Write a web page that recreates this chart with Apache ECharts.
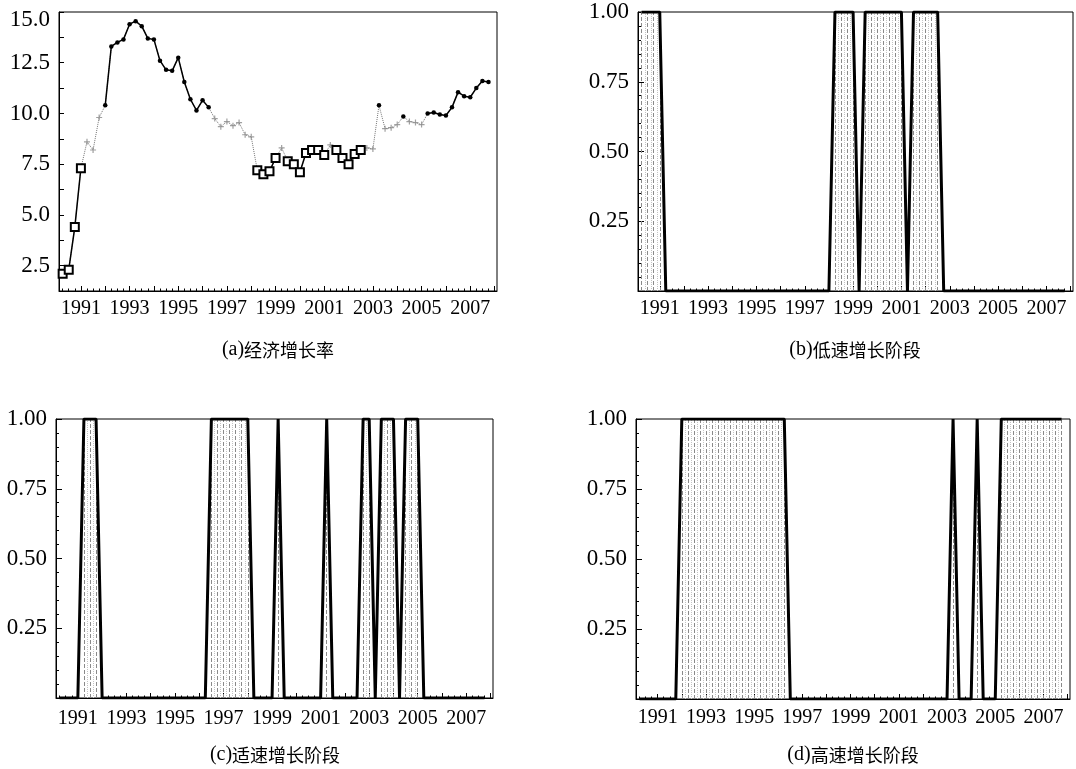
<!DOCTYPE html>
<html><head><meta charset="utf-8">
<script src="https://cdn.jsdelivr.net/npm/echarts@6/dist/echarts.min.js"></script>
<style>html,body{margin:0;padding:0;background:#fff}#c{width:1076px;height:769px}</style>
</head><body><div id="c"></div>
<script>
// ---- data ----
const periods = [
 '1990Q2','1990Q3','1990Q4',
 '1991Q1','1991Q2','1991Q3','1991Q4','1992Q1','1992Q2','1992Q3','1992Q4',
 '1993Q1','1993Q2','1993Q3','1993Q4','1994Q1','1994Q2','1994Q3','1994Q4',
 '1995Q1','1995Q2','1995Q3','1995Q4','1996Q1','1996Q2','1996Q3','1996Q4',
 '1997Q1','1997Q2','1997Q3','1997Q4','1998Q1','1998Q2','1998Q3','1998Q4',
 '1999Q1','1999Q2','1999Q3','1999Q4','2000Q1','2000Q2','2000Q3','2000Q4',
 '2001Q1','2001Q2','2001Q3','2001Q4','2002Q1','2002Q2','2002Q3','2002Q4',
 '2003Q1','2003Q2','2003Q3','2003Q4','2004Q1','2004Q2','2004Q3','2004Q4',
 '2005Q1','2005Q2','2005Q3','2005Q4','2006Q1','2006Q2','2006Q3','2006Q4',
 '2007Q1','2007Q2','2007Q3','2007Q4'];
const growth = [
 2.1, 2.3, 4.4,
 7.3, 8.6, 8.2, 9.8,   10.4, 13.3, 13.5, 13.65,
 14.4, 14.55, 14.3, 13.7,   13.65, 12.6, 12.15, 12.1,
 12.75, 11.55, 10.7, 10.15,   10.65, 10.3, 9.75, 9.35,
 9.6, 9.4, 9.55, 8.95,   8.85, 7.2, 7.0, 7.15,
 7.8, 8.3, 7.65, 7.5,   7.1, 8.05, 8.2, 8.2,
 7.95, 8.45, 8.2, 7.8,   7.5, 8.0, 8.2, 8.3,
 8.25, 10.4, 9.25, 9.3,   9.45, 9.85, 9.6, 9.55,
 9.45, 10.0, 10.05, 9.95,   9.9, 10.3, 11.05, 10.85,
 10.8, 11.25, 11.6, 11.55];
const probLow = [
 1,1,1,
 1,0,0,0, 0,0,0,0, 0,0,0,0, 0,0,0,0, 0,0,0,0, 0,0,0,0, 0,0,0,0,
 0,1,1,1, 1,0,1,1, 1,1,1,1, 1,0,1,1, 1,1,1,0,
 0,0,0,0, 0,0,0,0, 0,0,0,0, 0,0,0,0, 0,0,0,0];
const probMid = [
 0,0,0,
 0,1,1,1, 0,0,0,0, 0,0,0,0, 0,0,0,0, 0,0,0,0, 0,0,1,1, 1,1,1,1,
 1,0,0,0, 0,1,0,0, 0,0,0,0, 0,1,0,0, 0,0,0,1,
 1,0,1,1, 1,0,1,1, 1,0,0,0, 0,0,0,0, 0,0,0,0];
const probHigh = [
 0,0,0,
 0,0,0,0, 1,1,1,1, 1,1,1,1, 1,1,1,1, 1,1,1,1, 1,1,0,0, 0,0,0,0,
 0,0,0,0, 0,0,0,0, 0,0,0,0, 0,0,0,0, 0,0,0,0,
 0,1,0,0, 0,1,0,0, 0,1,1,1, 1,1,1,1, 1,1,1,1];
const yearLabels = [1991,1993,1995,1997,1999,2001,2003,2005,2007];
const yearTicks = [1991,1992,1993,1994,1995,1996,1997,1998,1999,2000,2001,2002,2003,2004,2005,2006,2007,2008];
const growthLabels = [2.5,5.0,7.5,10.0,12.5,15.0];
const probLabels = [0.25,0.50,0.75,1.00];
const captionTags = ['(a)','(b)','(c)','(d)'];
const captionTexts = ['经济增长率','低速增长阶段','适速增长阶段','高速增长阶段'];

// ---- helpers ----
const toX = p => +p.slice(0,4) + (+p.slice(5) - 1) / 4;
const xs = periods.map(toX);
const regimeOf = i => probLow[i] === 1 ? 0 : (probMid[i] === 1 ? 1 : 2);
const quarterTicks = [];
for (let y = 1990; y <= 2008; y++) for (let q = 0; q < 4; q++) quarterTicks.push(y + q / 4);

const SERIF = '"Liberation Serif","DejaVu Serif",serif';
const X0 = 1990.1, X1 = 2008.1;

const rects = [
  {left: 59, top: 12, width: 438, height: 279},
  {left: 638, top: 12, width: 435, height: 279},
  {left: 56, top: 419, width: 437, height: 279},
  {left: 636, top: 419, width: 434, height: 280}
];
const xLabelMargin = [8, 8, 11, 9];

const grid = [], xAxis = [], yAxis = [], series = [];
rects.forEach((r, k) => {
  grid.push(Object.assign({show: true, borderColor: '#000', borderWidth: 1, backgroundColor: 'transparent', containLabel: false}, r));
  grid.push(Object.assign({show: false, containLabel: false}, r));
  const gi = 2 * k;
  xAxis.push({
    gridIndex: gi, type: 'value', min: X0, max: X1, position: 'bottom',
    axisLine: {show: true, lineStyle: {color: '#000', width: 1}},
    axisTick: {show: true, inside: true, length: 5, customValues: yearTicks, lineStyle: {color: '#000', width: 1}},
    axisLabel: {show: true, customValues: yearLabels, margin: xLabelMargin[k], color: '#000', fontFamily: SERIF, fontSize: 20, formatter: v => String(Math.round(v))},
    splitLine: {show: false}
  });
  xAxis.push({
    gridIndex: gi + 1, type: 'value', min: X0, max: X1, position: 'bottom',
    axisLine: {show: false},
    axisTick: {show: true, inside: true, length: 2.5, customValues: quarterTicks, lineStyle: {color: '#000', width: 1}},
    axisLabel: {show: false}, splitLine: {show: false}
  });
  if (k === 0) {
    yAxis.push({
      gridIndex: gi, type: 'value', min: 1.25, max: 15, interval: 1.25,
      axisLine: {show: true, lineStyle: {color: '#000'}},
      axisTick: {show: true, inside: true, length: 5, lineStyle: {color: '#000'}},
      axisLabel: {
        show: true, margin: 9, color: '#000', fontFamily: SERIF, fontSize: 23,
        formatter: v => {
          const hit = growthLabels.find(g => Math.abs(g - v) < 1e-6);
          if (hit === undefined) return '';
          return hit === 15 ? '{t|' + hit.toFixed(1) + '}' : hit.toFixed(1);
        },
        rich: {t: {fontFamily: SERIF, fontSize: 23, color: '#000', padding: [16, 0, 0, 0]}}
      },
      splitLine: {show: false}
    });
  } else {
    yAxis.push({
      gridIndex: gi, type: 'value', min: 0, max: 1, interval: 0.25,
      axisLine: {show: true, lineStyle: {color: '#000'}},
      axisTick: {show: true, inside: true, length: 6, lineStyle: {color: '#000'}},
      minorTick: {show: true, splitNumber: 5, length: 3, lineStyle: {color: '#000'}},
      axisLabel: {
        show: true, margin: 9, color: '#000', fontFamily: SERIF, fontSize: 23,
        formatter: v => {
          const hit = probLabels.find(g => Math.abs(g - v) < 1e-6);
          return hit === undefined ? '' : hit.toFixed(2);
        }
      },
      splitLine: {show: false}
    });
  }
  yAxis.push({gridIndex: gi + 1, type: 'value', min: 0, max: 1, show: false});
});

// ---- panel (a) ----
const xa = 0, ya = 0;
series.push({
  type: 'line', xAxisIndex: xa, yAxisIndex: ya, silent: true, animation: false,
  data: xs.map((x, i) => [x, growth[i]]), symbol: 'none',
  lineStyle: {color: '#777', width: 1, type: 'dotted'}, z: 2
});
series.push({
  type: 'line', xAxisIndex: xa, yAxisIndex: ya, silent: true, animation: false,
  data: xs.map((x, i) => [x, regimeOf(i) === 0 ? growth[i] : '-']),
  connectNulls: false, symbol: 'emptyRect', symbolSize: 8, showAllSymbol: true,
  itemStyle: {color: '#000', borderWidth: 1.4},
  lineStyle: {color: '#000', width: 1.5}, z: 4
});
series.push({
  type: 'line', xAxisIndex: xa, yAxisIndex: ya, silent: true, animation: false,
  data: xs.map((x, i) => [x, regimeOf(i) === 2 ? growth[i] : '-']),
  connectNulls: false, symbol: 'circle', symbolSize: 4.5, showAllSymbol: true,
  itemStyle: {color: '#000'},
  lineStyle: {color: '#000', width: 1.5}, z: 4
});
series.push({
  type: 'scatter', xAxisIndex: xa, yAxisIndex: ya, silent: true, animation: false,
  data: xs.map((x, i) => regimeOf(i) === 1 ? [x, growth[i]] : null).filter(d => d),
  symbol: 'path://M4,0H6V4H10V6H6V10H4V6H0V4H4Z', symbolSize: 6,
  itemStyle: {color: '#888'}, z: 3
});

// ---- panels (b)(c)(d) ----
[probLow, probMid, probHigh].forEach((pr, j) => {
  const gi = 2 * (j + 1);
  const lines = [];
  xs.forEach((x, i) => {
    if (pr[i] === 1) {
      lines.push({xAxis: x, lineStyle: {color: '#8a8a8a', type: 'dashed', width: 1}});
      if (i + 1 < xs.length && pr[i + 1] === 1) {
        lines.push({xAxis: x + 0.125, lineStyle: {color: '#c4c4c4', type: 'dotted', width: 1}});
      }
    }
  });
  series.push({
    type: 'line', xAxisIndex: gi, yAxisIndex: gi, silent: true, animation: false,
    data: xs.map((x, i) => [x, pr[i]]), symbol: 'none',
    lineStyle: {color: '#000', width: 3}, z: 5,
    markLine: {silent: true, animation: false, symbol: ['none', 'none'], label: {show: false}, data: lines, z: 1}
  });
});

// ---- captions ----
const capPos = [[278, 340], [855, 340], [275, 745], [853, 745]];
const title = captionTags.map((t, k) => ({
  text: '{p|' + t + '}{c|' + captionTexts[k] + '}',
  left: capPos[k][0], top: capPos[k][1], textAlign: 'center', padding: 0,
  textStyle: {fontWeight: 'normal', rich: {
    p: {fontFamily: SERIF, fontSize: 20, fontWeight: 'normal', color: '#000'},
    c: {fontFamily: '"Noto Sans CJK SC"', fontSize: 18, fontWeight: 'normal', color: '#000'}
  }}
}));

const chart = echarts.init(document.getElementById('c'), null, {renderer: 'canvas'});
chart.setOption({backgroundColor: '#fff', animation: false, title, grid, xAxis, yAxis, series});
</script>
</body></html>
